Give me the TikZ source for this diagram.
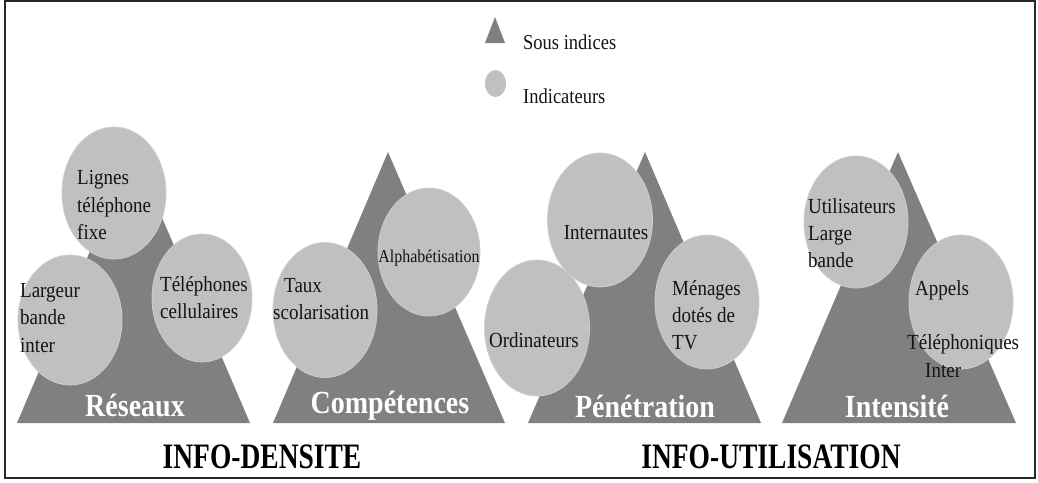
\documentclass[tikz,border=0pt]{standalone}
\usepackage{fontspec}
\setmainfont{Liberation Serif}
\usetikzlibrary{shapes.geometric}
\definecolor{trigray}{RGB}{128,128,128}
\definecolor{circgray}{RGB}{192,192,192}
\definecolor{circedge}{RGB}{205,205,205}
\definecolor{inktext}{RGB}{20,20,20}
\definecolor{framecol}{RGB}{40,40,40}
\begin{document}
\begin{tikzpicture}[x=1pt,y=-1pt,
  subindex/.style={fill=trigray, draw=none},
  indicator/.style={ellipse, fill=circgray, draw=circedge, line width=0.8pt, inner sep=0pt},
  indtext/.style={font=\fontsize{19}{24}\selectfont, text=inktext, inner sep=0pt, align=left, yscale=1.13, transform shape},
  grouplabel/.style={font=\bfseries\fontsize{28}{28}\selectfont, text=white, inner sep=0pt, yscale=1.15, transform shape},
  indexlabel/.style={font=\bfseries\fontsize{27.5}{28}\selectfont, text=black, inner sep=0pt, yscale=1.3, transform shape},
  legendtext/.style={font=\fontsize{18.5}{20}\selectfont, text=inktext, inner sep=0pt, anchor=base west, yscale=1.15, transform shape}
]
\useasboundingbox (0,0) rectangle (1038,482);
\draw[framecol, line width=1.5pt] (5,1) rectangle (1035,478);

% legend
\fill[subindex] (495,17) -- (485,43) -- (505,43) -- cycle;
\node[indicator, draw=none, minimum width=21pt, minimum height=27pt] (legcirc) at (495.5,83.5) {};
\node[legendtext] (legsub) at (523,49) {Sous indices};
\node[legendtext] (legind) at (523,103) {Indicateurs};

% sub-index triangles
\fill[subindex] (133,150) -- (17,423) -- (250,423) -- cycle;
\fill[subindex] (388,152) -- (273,423) -- (505,423) -- cycle;
\fill[subindex] (645,152) -- (528,423) -- (761,423) -- cycle;
\fill[subindex] (898,152) -- (782,423) -- (1016,423) -- cycle;

% indicators: Réseaux
\node[indicator, minimum width=104pt, minimum height=132pt] (lignes) at (114,193) {};
\node[indicator, minimum width=104pt, minimum height=130pt] (largeur) at (70,320) {};
\node[indicator, minimum width=100pt, minimum height=128pt] (cell) at (202,298) {};
\node[indtext, anchor=west] (lignesT) at (77,205) {Lignes\\téléphone\\fixe};
\node[indtext, anchor=west] (largeurT) at (20,318) {Largeur\\bande\\inter};
\node[indtext, anchor=west] (cellT) at (160,298) {Téléphones\\cellulaires};

% indicators: Compétences
\node[indicator, minimum width=104pt, minimum height=135pt] (taux) at (325,310) {};
\node[indicator, minimum width=102pt, minimum height=128pt] (alpha) at (429,252) {};
\node[indtext, anchor=west] (tauxT) at (273,299) {\hspace{11pt}Taux\\scolarisation};
\node[indtext, font=\fontsize{16}{20}\selectfont] (alphaT) at (429,258) {Alphabétisation};

% indicators: Pénétration
\node[indicator, minimum width=105pt, minimum height=134pt] (internautes) at (600,220) {};
\node[indicator, minimum width=105pt, minimum height=136pt] (ordis) at (537,328) {};
\node[indicator, minimum width=104pt, minimum height=134pt] (menages) at (707,302) {};
\node[indtext] (internautesT) at (606,233) {Internautes};
\node[indtext] (ordisT) at (534,340) {Ordinateurs};
\node[indtext, anchor=west] (menagesT) at (672,315) {Ménages\\dotés de\\TV};

% indicators: Intensité
\node[indicator, minimum width=104pt, minimum height=132pt] (utilisateurs) at (856,222) {};
\node[indicator, minimum width=104pt, minimum height=134pt] (appels) at (961,302) {};
\node[indtext, anchor=west] (utilisateursT) at (808,233) {Utilisateurs\\Large\\bande};
\node[indtext, anchor=west] (appelsT) at (907,329) {\hspace{8pt}Appels\\[24pt]Téléphoniques\\\hspace{18pt}Inter};

% sub-index names
\node[grouplabel] (reseaux) at (135,406) {Réseaux};
\node[grouplabel] (competences) at (390,406) {Compétences};
\node[grouplabel] (penetration) at (645,406) {Pénétration};
\node[grouplabel] (intensite) at (897,406) {Intensité};

% index names
\node[indexlabel] (densite) at (262,457) {INFO-DENSITE};
\node[indexlabel] (utilisation) at (771,457) {INFO-UTILISATION};
\end{tikzpicture}
\end{document}
